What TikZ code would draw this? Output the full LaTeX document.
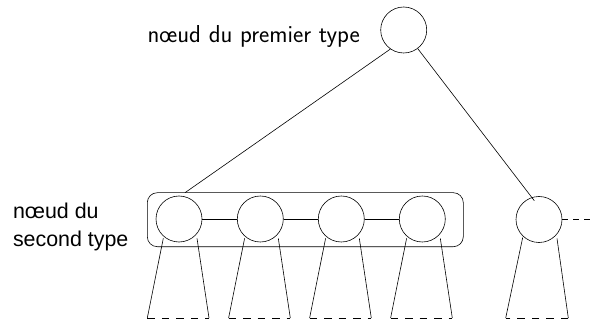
\documentclass[tikz,border=0pt]{standalone}
\usepackage{fontspec}
\newfontfamily\labfont{Liberation Sans}
\usetikzlibrary{calc}
\begin{document}
\begin{tikzpicture}[x=1pt,y=-1pt,line width=0.6pt,
  circ/.style={circle,draw,minimum size=46pt,inner sep=0pt},
  frame/.style={draw,rounded corners=10pt,minimum width=316pt,minimum height=54pt,inner sep=0pt},
  botdash/.style={dash pattern=on 7.5pt off 7pt},
  sidedash/.style={dash pattern=on 6pt off 5pt},
  toplab/.style={anchor=base west,inner sep=0pt,font=\sffamily\fontsize{24.5}{28}\selectfont},
  leftlab/.style={anchor=base west,inner sep=0pt,font=\labfont\fontsize{21.4}{25}\selectfont}]
\useasboundingbox (0,0) rectangle (591,320);

\node[frame] (box) at (305.3,219.7) {};
\node[circ] (top) at (403.7,30) {};
\node[circ] (c1) at (179,219) {};
\node[circ] (c2) at (260.3,219) {};
\node[circ] (c3) at (341.3,219) {};
\node[circ] (c4) at (422.3,219) {};
\node[circ] (c5) at (539,219.5) {};

\node[toplab] (t1) at (147.3,42.5) {nœud du premier type};
\node[leftlab] (t2) at (12.7,218.5) {nœud du};
\node[leftlab] (t3) at (12.7,246.8) {second type};

\coordinate (bA) at (185,192.7);
\coordinate (rA) at (534.3,200.7);
\coordinate (rE) at (591,219.5);
\draw (top.-125) -- (bA);
\draw (top.-53) -- (rA);
\draw (c1) -- (c2);
\draw (c2) -- (c3);
\draw (c3) -- (c4);
\draw[sidedash] (c5.east) -- (rE);

\foreach \i in {1,2,3,4}{
  \coordinate (lt\i) at ($(c\i)+(-15.7,19.3)$);
  \coordinate (lb\i) at ($(c\i)+(-31.7,99)$);
  \coordinate (rt\i) at ($(c\i)+(18,19.3)$);
  \coordinate (rb\i) at ($(c\i)+(30,99)$);
  \draw (lt\i) -- (lb\i);
  \draw (rt\i) -- (rb\i);
  \draw[botdash] (lb\i) -- (rb\i);
}
\coordinate (lt5) at ($(c5)+(-16.3,18)$);
\coordinate (lb5) at ($(c5)+(-33.3,98.5)$);
\coordinate (rt5) at ($(c5)+(18,19)$);
\coordinate (rb5) at ($(c5)+(29.3,98.5)$);
\draw (lt5) -- (lb5);
\draw (rt5) -- (rb5);
\draw[botdash] (rb5) -- (lb5);
\end{tikzpicture}
\end{document}
